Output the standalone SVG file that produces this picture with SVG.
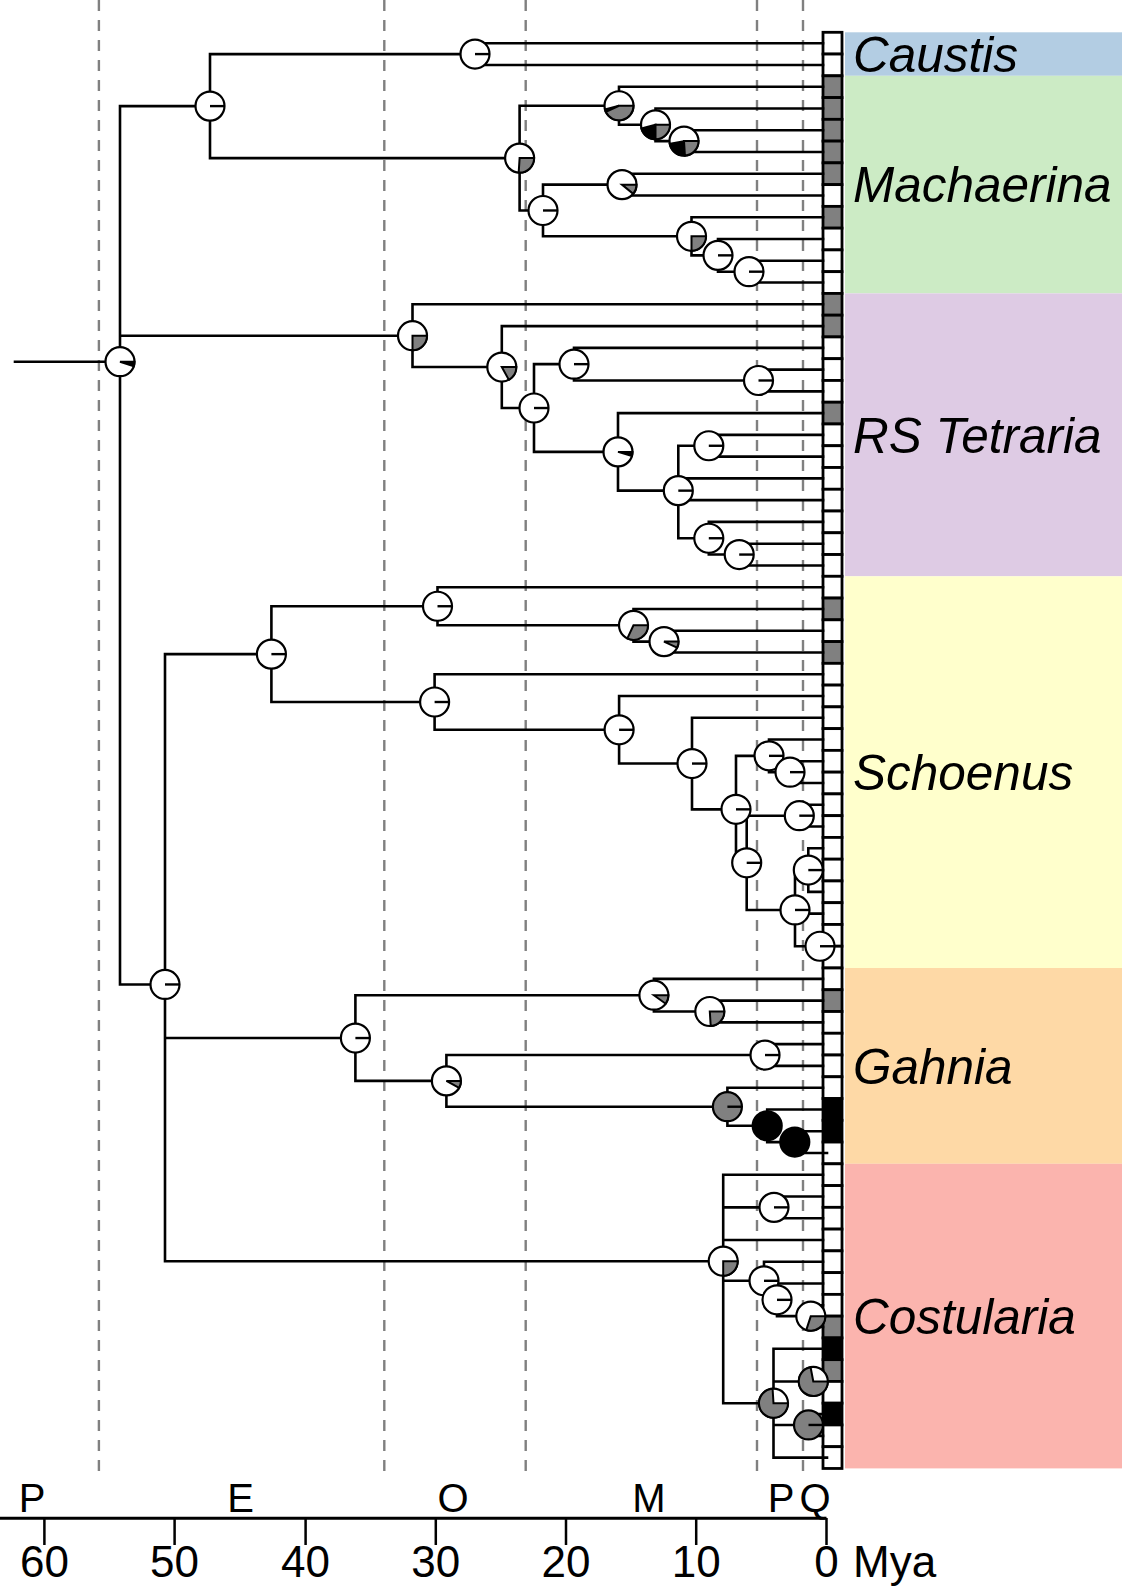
<svg xmlns="http://www.w3.org/2000/svg" width="1122" height="1587" viewBox="0 0 1122 1587">
<style>
.e{stroke:#000;stroke-width:2.6;fill:none;stroke-linecap:square}
.dash{stroke:#808080;stroke-width:2.4;stroke-dasharray:11 9;fill:none}
.pw{fill:#fff;stroke:#000;stroke-width:2.2}
.pg{fill:#808080;stroke:#000;stroke-width:2}
.pk{fill:#000;stroke:#000;stroke-width:2}
.pl{stroke:#000;stroke-width:2.4;fill:none}
.cw{fill:#fff;stroke:#000;stroke-width:2.8}
.cg{fill:#808080;stroke:#000;stroke-width:2.8}
.ck{fill:#000;stroke:#000;stroke-width:2.8}
.lab{font-family:"Liberation Sans",Arial,sans-serif;font-style:italic;font-size:49.5px;fill:#000}
.ax{font-family:"Liberation Sans",Arial,sans-serif;font-size:44px;fill:#000}
.ep{font-family:"Liberation Sans",Arial,sans-serif;font-size:40px;fill:#000;text-anchor:middle}
</style>
<defs>
<path id="wl" d="M0,0H14.5"/>
</defs>
<rect width="1122" height="1587" fill="#fff"/>

<g id="bands">
<rect x="845" y="32.3" width="277" height="43.5" fill="#b3cde3"/>
<rect x="845" y="75.8" width="277" height="217.6" fill="#ccebc5"/>
<rect x="845" y="293.4" width="277" height="282.9" fill="#decbe4"/>
<rect x="845" y="576.3" width="277" height="391.7" fill="#ffffcc"/>
<rect x="845" y="968" width="277" height="195.8" fill="#fed9a6"/>
<rect x="845" y="1163.8" width="277" height="304.6" fill="#fbb4ae"/>
</g>

<g id="epoch-lines">
<path class="dash" d="M98.9,0V1480M384.3,0V1480M525.7,0V1480M757,0V1480M803,0V1480"/>
</g>

<g id="tip-states">
<rect class="cw" x="823" y="32.3" width="19" height="21.76"/>
<rect class="cw" x="823" y="54.06" width="19" height="21.76"/>
<rect class="cg" x="823" y="75.82" width="19" height="21.76"/>
<rect class="cg" x="823" y="97.58" width="19" height="21.76"/>
<rect class="cg" x="823" y="119.34" width="19" height="21.76"/>
<rect class="cg" x="823" y="141.1" width="19" height="21.76"/>
<rect class="cg" x="823" y="162.86" width="19" height="21.76"/>
<rect class="cw" x="823" y="184.62" width="19" height="21.76"/>
<rect class="cg" x="823" y="206.38" width="19" height="21.76"/>
<rect class="cw" x="823" y="228.14" width="19" height="21.76"/>
<rect class="cw" x="823" y="249.9" width="19" height="21.76"/>
<rect class="cw" x="823" y="271.66" width="19" height="21.76"/>
<rect class="cg" x="823" y="293.42" width="19" height="21.76"/>
<rect class="cg" x="823" y="315.18" width="19" height="21.76"/>
<rect class="cw" x="823" y="336.94" width="19" height="21.76"/>
<rect class="cw" x="823" y="358.7" width="19" height="21.76"/>
<rect class="cw" x="823" y="380.46" width="19" height="21.76"/>
<rect class="cg" x="823" y="402.22" width="19" height="21.76"/>
<rect class="cw" x="823" y="423.98" width="19" height="21.76"/>
<rect class="cw" x="823" y="445.74" width="19" height="21.76"/>
<rect class="cw" x="823" y="467.5" width="19" height="21.76"/>
<rect class="cw" x="823" y="489.26" width="19" height="21.76"/>
<rect class="cw" x="823" y="511.02" width="19" height="21.76"/>
<rect class="cw" x="823" y="532.78" width="19" height="21.76"/>
<rect class="cw" x="823" y="554.54" width="19" height="21.76"/>
<rect class="cw" x="823" y="576.3" width="19" height="21.76"/>
<rect class="cg" x="823" y="598.06" width="19" height="21.76"/>
<rect class="cw" x="823" y="619.82" width="19" height="21.76"/>
<rect class="cg" x="823" y="641.58" width="19" height="21.76"/>
<rect class="cw" x="823" y="663.34" width="19" height="21.76"/>
<rect class="cw" x="823" y="685.1" width="19" height="21.76"/>
<rect class="cw" x="823" y="706.86" width="19" height="21.76"/>
<rect class="cw" x="823" y="728.62" width="19" height="21.76"/>
<rect class="cw" x="823" y="750.38" width="19" height="21.76"/>
<rect class="cw" x="823" y="772.14" width="19" height="21.76"/>
<rect class="cw" x="823" y="793.9" width="19" height="21.76"/>
<rect class="cw" x="823" y="815.66" width="19" height="21.76"/>
<rect class="cw" x="823" y="837.42" width="19" height="21.76"/>
<rect class="cw" x="823" y="859.18" width="19" height="21.76"/>
<rect class="cw" x="823" y="880.94" width="19" height="21.76"/>
<rect class="cw" x="823" y="902.7" width="19" height="21.76"/>
<rect class="cw" x="823" y="924.46" width="19" height="21.76"/>
<rect class="cw" x="823" y="946.22" width="19" height="21.76"/>
<rect class="cw" x="823" y="967.98" width="19" height="21.76"/>
<rect class="cg" x="823" y="989.74" width="19" height="21.76"/>
<rect class="cw" x="823" y="1011.5" width="19" height="21.76"/>
<rect class="cw" x="823" y="1033.26" width="19" height="21.76"/>
<rect class="cw" x="823" y="1055.02" width="19" height="21.76"/>
<rect class="cw" x="823" y="1076.78" width="19" height="21.76"/>
<rect class="ck" x="823" y="1098.54" width="19" height="21.76"/>
<rect class="ck" x="823" y="1120.3" width="19" height="21.76"/>
<rect class="cw" x="823" y="1142.06" width="19" height="21.76"/>
<rect class="cw" x="823" y="1163.82" width="19" height="21.76"/>
<rect class="cw" x="823" y="1185.58" width="19" height="21.76"/>
<rect class="cw" x="823" y="1207.34" width="19" height="21.76"/>
<rect class="cw" x="823" y="1229.1" width="19" height="21.76"/>
<rect class="cw" x="823" y="1250.86" width="19" height="21.76"/>
<rect class="cw" x="823" y="1272.62" width="19" height="21.76"/>
<rect class="cw" x="823" y="1294.38" width="19" height="21.76"/>
<rect class="cg" x="823" y="1316.14" width="19" height="21.76"/>
<rect class="ck" x="823" y="1337.9" width="19" height="21.76"/>
<rect class="cg" x="823" y="1359.66" width="19" height="21.76"/>
<rect class="cw" x="823" y="1381.42" width="19" height="21.76"/>
<rect class="ck" x="823" y="1403.18" width="19" height="21.76"/>
<rect class="cw" x="823" y="1424.94" width="19" height="21.76"/>
<rect class="cw" x="823" y="1446.7" width="19" height="21.76"/>
</g>

<g id="edges" class="e">
<path d="M120,106.1V984.46M15,361.7H120M120,106.1H210M120,335.69H412.5M120,984.46H165"/>
<path d="M210,54.08V158.12M210,54.08H475M210,158.12H519.6"/>
<path d="M475,43.2V64.96M475,43.2H823M475,64.96H823"/>
<path d="M519.6,105.76V210.48M519.6,105.76H619M519.6,210.48H543"/>
<path d="M619,86.72V124.8M619,86.72H823M619,124.8H655.5"/>
<path d="M655.5,108.48V141.12M655.5,108.48H823M655.5,141.12H684"/>
<path d="M684,130.24V152M684,130.24H823M684,152H823"/>
<path d="M543,184.64V236.32M543,184.64H622M543,236.32H691.5"/>
<path d="M622,173.76V195.52M622,173.76H823M622,195.52H823"/>
<path d="M691.5,217.28V255.36M691.5,217.28H823M691.5,255.36H718"/>
<path d="M718,239.04V271.68M718,239.04H823M718,271.68H749"/>
<path d="M749,260.8V282.56M749,260.8H823M749,282.56H823"/>
<path d="M412.5,304.32V367.05M412.5,304.32H823M412.5,367.05H501.8"/>
<path d="M501.8,326.08V408.02M501.8,326.08H823M501.8,408.02H534"/>
<path d="M534,364.16V451.88M534,364.16H574M534,451.88H618"/>
<path d="M574,347.84V380.48M574,347.84H823M574,380.48H758.5"/>
<path d="M758.5,369.6V391.36M758.5,369.6H823M758.5,391.36H823"/>
<path d="M618,413.12V490.64M618,413.12H823M618,490.64H678.3"/>
<path d="M678.3,445.76V538.24M678.3,445.76H708.8M678.3,478.4H823M678.3,500.16H823M678.3,538.24H708.8"/>
<path d="M708.8,434.88V456.64M708.8,434.88H823M708.8,456.64H823"/>
<path d="M708.8,521.92V554.56M708.8,521.92H823M708.8,554.56H739.2"/>
<path d="M739.2,543.68V565.44M739.2,543.68H823M739.2,565.44H823"/>
<path d="M165,654.13V1261.22M165,654.13H271.4M165,1038.04H355.4M165,1261.22H723.2"/>
<path d="M271.4,606.24V702.01M271.4,606.24H437.5M271.4,702.01H434.6"/>
<path d="M437.5,587.2V625.28M437.5,587.2H823M437.5,625.28H633.5"/>
<path d="M633.5,608.96V641.6M633.5,608.96H823M633.5,641.6H664"/>
<path d="M664,630.72V652.48M664,630.72H823M664,652.48H823"/>
<path d="M434.6,674.24V729.78M434.6,674.24H823M434.6,729.78H619.1"/>
<path d="M619.1,696V763.55M619.1,696H823M619.1,763.55H692"/>
<path d="M692,717.76V809.34M692,717.76H823M692,809.34H736"/>
<path d="M736,755.84V862.83M736,755.84H769M736,862.83H746.7"/>
<path d="M769,739.52V772.16M769,739.52H823M769,772.16H790"/>
<path d="M790,761.28V783.04M790,761.28H823M790,783.04H823"/>
<path d="M746.7,815.68V909.97M746.7,815.68H799.3M746.7,909.97H795"/>
<path d="M799.3,804.8V826.56M799.3,804.8H823M799.3,826.56H823"/>
<path d="M795,870.08V946.24M795,870.08H808.3M795,913.6H823M795,946.24H820"/>
<path d="M808.3,848.32V891.84M808.3,848.32H823M808.3,870.08H823M808.3,891.84H823"/>
<path d="M820,935.36V957.12M820,935.36H823M820,957.12H823"/>
<path d="M355.4,995.2V1080.88M355.4,995.2H653.9M355.4,1080.88H446.4"/>
<path d="M653.9,978.88V1011.52M653.9,978.88H823M653.9,1011.52H709.8"/>
<path d="M709.8,1000.64V1022.4M709.8,1000.64H823M709.8,1022.4H823"/>
<path d="M446.4,1055.04V1106.72M446.4,1055.04H765M446.4,1106.72H727.4"/>
<path d="M765,1044.16V1065.92M765,1044.16H823M765,1065.92H823"/>
<path d="M727.4,1087.68V1125.76M727.4,1087.68H823M727.4,1125.76H767.2"/>
<path d="M767.2,1109.44V1142.08M767.2,1109.44H823M767.2,1142.08H794.8"/>
<path d="M794.8,1131.2V1152.96M794.8,1131.2H823M794.8,1152.96H827"/>
<path d="M723.2,1174.72V1403.2M723.2,1174.72H823M723.2,1207.36H774M723.2,1240H823M723.2,1280.8H764M723.2,1403.2H773.5"/>
<path d="M774,1196.48V1218.24M774,1196.48H823M774,1218.24H823"/>
<path d="M764,1261.76V1299.84M764,1261.76H823M764,1299.84H777"/>
<path d="M777,1283.52V1316.16M777,1283.52H823M777,1316.16H810.8"/>
<path d="M810.8,1305.28V1327.04M810.8,1305.28H823M810.8,1327.04H823"/>
<path d="M773.5,1348.8V1457.6M773.5,1348.8H823M773.5,1381.44H813.3M773.5,1424.96H808.5M773.5,1457.6H827"/>
<path d="M813.3,1370.56V1392.32M813.3,1370.56H823M813.3,1392.32H823"/>
<path d="M808.5,1414.08V1435.84M808.5,1414.08H823M808.5,1435.84H823"/>
</g>

<g id="nodes">
<g id="n-root" transform="translate(120,361.7)"><circle class="pw" r="14.5"/><path class="pk" d="M0,0L13.79,4.48A14.5,14.5 0 0 0 14.5,0Z"/></g>
<g id="n-A" transform="translate(210,106.1)"><circle class="pw" r="14.5"/><use href="#wl" class="pl"/></g>
<g id="n-caustis" transform="translate(475,54.08)"><circle class="pw" r="14.5"/><use href="#wl" class="pl"/></g>
<g id="n-M0" transform="translate(519.6,158.12)"><circle class="pw" r="14.5"/><path class="pg" d="M0,0L-0.91,14.47A14.5,14.5 0 0 0 14.5,0Z"/></g>
<g id="n-M1" transform="translate(619,105.76)"><circle class="pw" r="14.5"/><path class="pk" d="M0,0L-14.04,3.61A14.5,14.5 0 0 0 -13.12,6.17Z"/><path class="pg" d="M0,0L-13.12,6.17A14.5,14.5 0 0 0 14.5,0Z"/></g>
<g id="n-M1b" transform="translate(655.5,124.8)"><circle class="pw" r="14.5"/><path class="pk" d="M0,0L-14.04,3.61A14.5,14.5 0 0 0 0,14.5Z"/><path class="pg" d="M0,0L0,14.5A14.5,14.5 0 0 0 14.5,0Z"/></g>
<g id="n-M1c" transform="translate(684,141.12)"><circle class="pw" r="14.5"/><path class="pk" d="M0,0L-14.24,2.72A14.5,14.5 0 0 0 0.91,14.47Z"/><path class="pg" d="M0,0L0.91,14.47A14.5,14.5 0 0 0 14.5,0Z"/></g>
<g id="n-M2" transform="translate(543,210.48)"><circle class="pw" r="14.5"/><use href="#wl" class="pl"/></g>
<g id="n-M3" transform="translate(622,184.64)"><circle class="pw" r="14.5"/><path class="pg" d="M0,0L11.17,9.24A14.5,14.5 0 0 0 14.5,0Z"/></g>
<g id="n-M4" transform="translate(691.5,236.32)"><circle class="pw" r="14.5"/><path class="pg" d="M0,0L0,14.5A14.5,14.5 0 0 0 14.5,0Z"/></g>
<g id="n-M5" transform="translate(718,255.36)"><circle class="pw" r="14.5"/><use href="#wl" class="pl"/></g>
<g id="n-M6" transform="translate(749,271.68)"><circle class="pw" r="14.5"/><use href="#wl" class="pl"/></g>
<g id="n-R0" transform="translate(412.5,335.69)"><circle class="pw" r="14.5"/><path class="pg" d="M0,0L0,14.5A14.5,14.5 0 0 0 14.5,0Z"/></g>
<g id="n-R1" transform="translate(501.8,367.05)"><circle class="pw" r="14.5"/><path class="pg" d="M0,0L6.99,12.71A14.5,14.5 0 0 0 14.5,0Z"/></g>
<g id="n-R2" transform="translate(534,408.02)"><circle class="pw" r="14.5"/><use href="#wl" class="pl"/></g>
<g id="n-R3" transform="translate(574,364.16)"><circle class="pw" r="14.5"/><use href="#wl" class="pl"/></g>
<g id="n-R3b" transform="translate(758.5,380.48)"><circle class="pw" r="14.5"/><use href="#wl" class="pl"/></g>
<g id="n-R4" transform="translate(618,451.88)"><circle class="pw" r="14.5"/><path class="pk" d="M0,0L13.92,4.05A14.5,14.5 0 0 0 14.5,0Z"/></g>
<g id="n-R5" transform="translate(678.3,490.64)"><circle class="pw" r="14.5"/><use href="#wl" class="pl"/></g>
<g id="n-R6" transform="translate(708.8,445.76)"><circle class="pw" r="14.5"/><use href="#wl" class="pl"/></g>
<g id="n-R7" transform="translate(708.8,538.24)"><circle class="pw" r="14.5"/><use href="#wl" class="pl"/></g>
<g id="n-R8" transform="translate(739.2,554.56)"><circle class="pw" r="14.5"/><use href="#wl" class="pl"/></g>
<g id="n-B" transform="translate(165,984.46)"><circle class="pw" r="14.5"/><use href="#wl" class="pl"/></g>
<g id="n-S0" transform="translate(271.4,654.13)"><circle class="pw" r="14.5"/><use href="#wl" class="pl"/></g>
<g id="n-S1" transform="translate(437.5,606.24)"><circle class="pw" r="14.5"/><use href="#wl" class="pl"/></g>
<g id="n-S1b" transform="translate(633.5,625.28)"><circle class="pw" r="14.5"/><path class="pg" d="M0,0L-6.17,13.12A14.5,14.5 0 0 0 14.5,0Z"/></g>
<g id="n-S1c" transform="translate(664,641.6)"><circle class="pw" r="14.5"/><path class="pg" d="M0,0L13.12,6.17A14.5,14.5 0 0 0 14.5,0Z"/></g>
<g id="n-S2" transform="translate(434.6,702.01)"><circle class="pw" r="14.5"/><use href="#wl" class="pl"/></g>
<g id="n-S3" transform="translate(619.1,729.78)"><circle class="pw" r="14.5"/><use href="#wl" class="pl"/></g>
<g id="n-S4" transform="translate(692,763.55)"><circle class="pw" r="14.5"/><use href="#wl" class="pl"/></g>
<g id="n-S5" transform="translate(736,809.34)"><circle class="pw" r="14.5"/><use href="#wl" class="pl"/></g>
<g id="n-S6" transform="translate(769,755.84)"><circle class="pw" r="14.5"/><use href="#wl" class="pl"/></g>
<g id="n-S6b" transform="translate(790,772.16)"><circle class="pw" r="14.5"/><use href="#wl" class="pl"/></g>
<g id="n-S8" transform="translate(746.7,862.83)"><circle class="pw" r="14.5"/><use href="#wl" class="pl"/></g>
<g id="n-S7" transform="translate(799.3,815.68)"><circle class="pw" r="14.5"/><use href="#wl" class="pl"/></g>
<g id="n-S9" transform="translate(795,909.97)"><circle class="pw" r="14.5"/><use href="#wl" class="pl"/></g>
<g id="n-S8a" transform="translate(808.3,870.08)"><circle class="pw" r="14.5"/><use href="#wl" class="pl"/></g>
<g id="n-S10" transform="translate(820,946.24)"><circle class="pw" r="14.5"/><use href="#wl" class="pl"/></g>
<g id="n-G0" transform="translate(355.4,1038.04)"><circle class="pw" r="14.5"/><use href="#wl" class="pl"/></g>
<g id="n-G1" transform="translate(653.9,995.2)"><circle class="pw" r="14.5"/><path class="pg" d="M0,0L11.73,8.52A14.5,14.5 0 0 0 14.5,0Z"/></g>
<g id="n-G1b" transform="translate(709.8,1011.52)"><circle class="pw" r="14.5"/><path class="pg" d="M0,0L0.91,14.47A14.5,14.5 0 0 0 14.5,0Z"/></g>
<g id="n-G2" transform="translate(446.4,1080.88)"><circle class="pw" r="14.5"/><path class="pg" d="M0,0L12.71,6.99A14.5,14.5 0 0 0 14.5,0Z"/></g>
<g id="n-G3" transform="translate(765,1055.04)"><circle class="pw" r="14.5"/><use href="#wl" class="pl"/></g>
<g id="n-G4" transform="translate(727.4,1106.72)"><circle class="pg" r="14.5" style="stroke-width:2.2"/><use href="#wl" class="pl"/></g>
<g id="n-G5" transform="translate(767.2,1125.76)"><circle class="pk" r="14.5" style="stroke-width:2.2"/></g>
<g id="n-G6" transform="translate(794.8,1142.08)"><circle class="pk" r="14.5" style="stroke-width:2.2"/></g>
<g id="n-C0" transform="translate(723.2,1261.22)"><circle class="pw" r="14.5"/><path class="pg" d="M0,0L0,14.5A14.5,14.5 0 0 0 14.5,0Z"/></g>
<g id="n-C1" transform="translate(774,1207.36)"><circle class="pw" r="14.5"/><use href="#wl" class="pl"/></g>
<g id="n-C2" transform="translate(764,1280.8)"><circle class="pw" r="14.5"/><use href="#wl" class="pl"/></g>
<g id="n-C3" transform="translate(777,1299.84)"><circle class="pw" r="14.5"/><use href="#wl" class="pl"/></g>
<g id="n-C4" transform="translate(810.8,1316.16)"><circle class="pw" r="14.5"/><path class="pg" d="M0,0L-4.48,13.79A14.5,14.5 0 0 0 14.5,0Z"/></g>
<g id="n-C5" transform="translate(773.5,1403.2)"><circle class="pw" r="14.5"/><path class="pg" d="M0,0L-0.91,-14.47A14.5,14.5 0 1 0 14.5,0Z"/></g>
<g id="n-C7" transform="translate(813.3,1381.44)"><circle class="pw" r="14.5"/><path class="pg" d="M0,0L-2.72,-14.24A14.5,14.5 0 1 0 14.5,0Z"/></g>
<g id="n-C8" transform="translate(808.5,1424.96)"><circle class="pg" r="14.5" style="stroke-width:2.2"/><use href="#wl" class="pl"/></g>
</g>

<g id="clade-labels" class="lab">
<text x="853" y="71.7">Caustis</text>
<text x="853" y="202">Machaerina</text>
<text x="853" y="452.5">RS Tetraria</text>
<text x="853" y="790">Schoenus</text>
<text x="853" y="1084">Gahnia</text>
<text x="853" y="1334">Costularia</text>
</g>

<g id="axis">
<path d="M0,1518.3H826.5" stroke="#000" stroke-width="3" fill="none"/>
<path d="M44.4,1518V1545M174.6,1518V1545M305.6,1518V1545M435.8,1518V1545M566,1518V1545M696.2,1518V1545M826.5,1518V1545" stroke="#000" stroke-width="2.5" fill="none"/>
<g class="ax" text-anchor="middle">
<text x="44.4" y="1577">60</text>
<text x="174.6" y="1577">50</text>
<text x="305.6" y="1577">40</text>
<text x="435.8" y="1577">30</text>
<text x="566" y="1577">20</text>
<text x="696.2" y="1577">10</text>
<text x="826.5" y="1577">0</text>
</g>
<text class="ax" x="853" y="1577">Mya</text>
<g class="ep">
<text x="32" y="1511.7">P</text>
<text x="240.5" y="1511.7">E</text>
<text x="453" y="1511.7">O</text>
<text x="649" y="1511.7">M</text>
<text x="781" y="1511.7">P</text>
<text x="815" y="1511.7">Q</text>
</g>
</g>
</svg>
